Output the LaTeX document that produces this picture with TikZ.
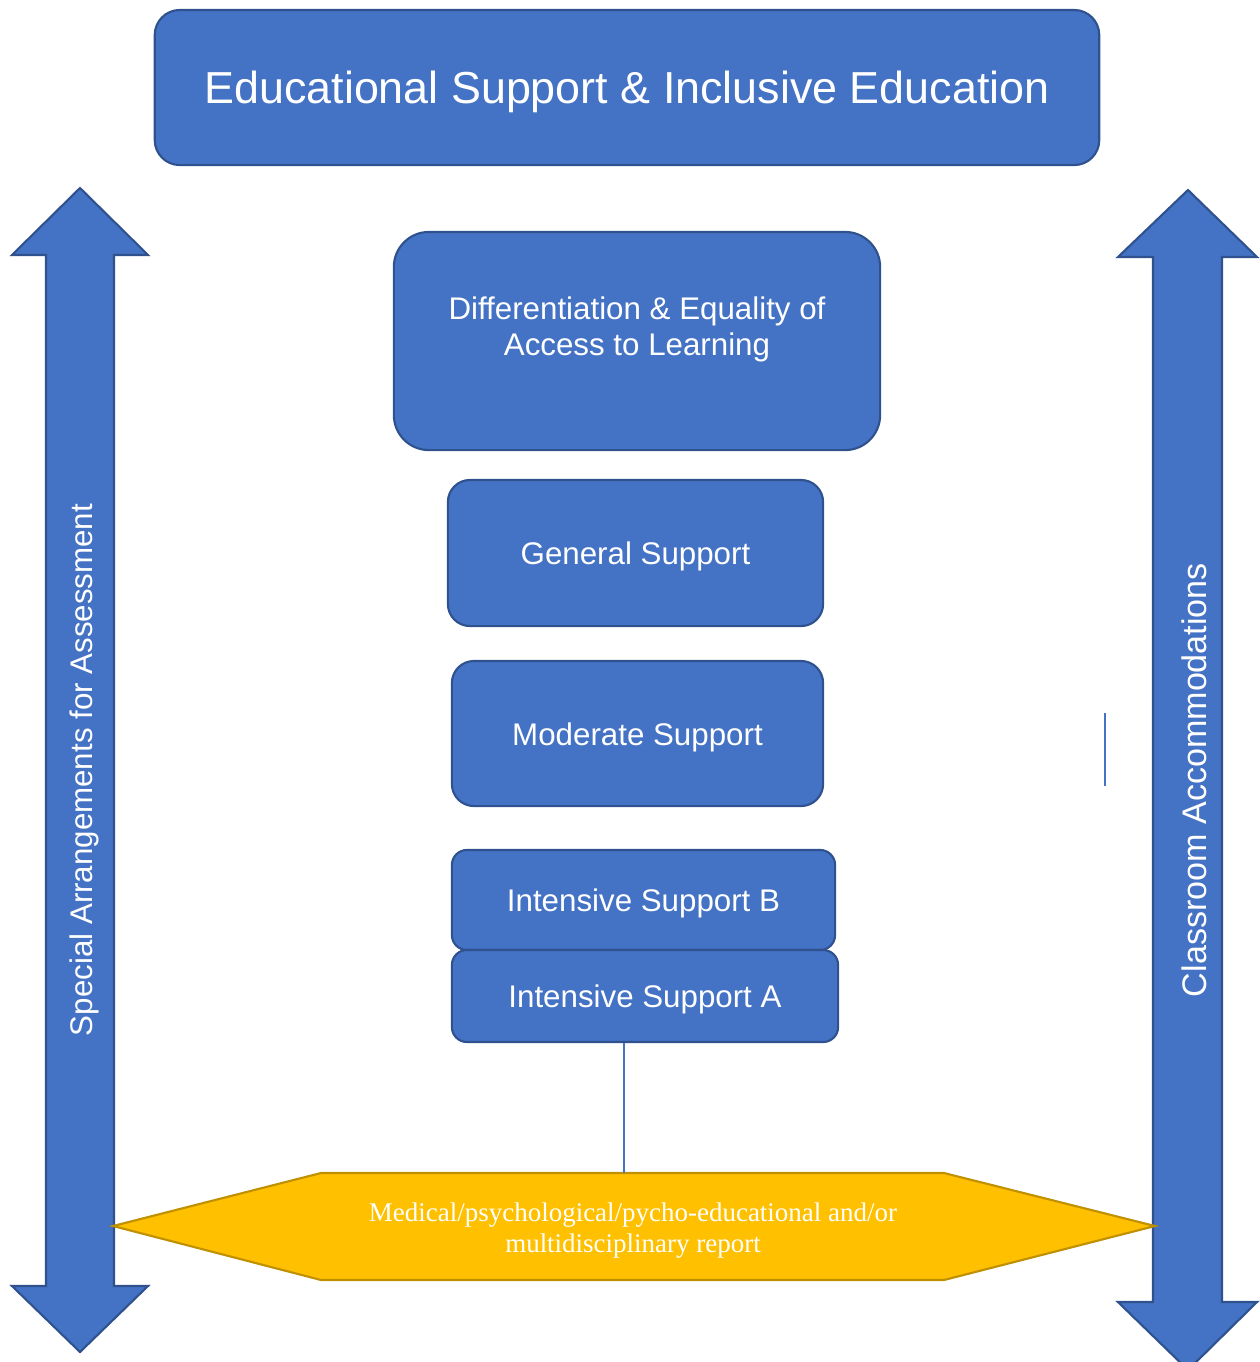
\documentclass[tikz,border=0pt]{standalone}
\usepackage{fontspec}
\setmainfont{Liberation Sans}
\newfontfamily\reportfont{Liberation Serif}
\usepackage{tikz}

\definecolor{boxblue}{HTML}{4472C4}
\definecolor{boxedge}{HTML}{2F528F}
\definecolor{reportgold}{HTML}{FFC000}
\definecolor{reportedge}{HTML}{BF9000}

% drop a label a little, keeping its box
\newcommand{\dropped}[2][1pt]{\raisebox{-#1}[\height][\depth]{#2}}

\tikzset{
	bluebox/.style={draw=boxedge, fill=boxblue, line width=0.6pt, text=white, align=center, inner sep=0pt},
	bluearrow/.style={draw=boxedge, fill=boxblue, line width=0.6pt},
	goldhex/.style={draw=reportedge, fill=reportgold, line width=0.6pt},
	midtext/.style={text=white, align=center, font=\fontsize{8.9pt}{10.2pt}\selectfont},
}

\begin{document}
\begin{tikzpicture}[x=0.01cm, y=-0.01cm]
					\useasboundingbox (0,0) rectangle (1260,1362);
					% Side arrows
					\draw[bluearrow] (80,188) -- (148,255) -- (114,255) -- (114,1286) -- (148,1286) -- (80,1352) -- (12,1286) -- (46,1286) -- (46,255) -- (12,255) -- cycle;
					\draw[bluearrow] (1188,190) -- (1257,257) -- (1222,257) -- (1222,1302) -- (1257,1302) -- (1188,1370) -- (1118,1302) -- (1153,1302) -- (1153,257) -- (1118,257) -- cycle;
					\node[midtext, rotate=90] (assess) at (84,770) {Special Arrangements for Assessment};
					\node[midtext, rotate=90, font=\fontsize{9.7pt}{11pt}\selectfont] (accom) at (1194,780) {Classroom Accommodations};
					% Title
					\node[bluebox, rounded corners=0.25cm, minimum width=9.44cm, minimum height=1.55cm,
						font=\fontsize{12.75pt}{15pt}\selectfont] (title) at (627,87.5) {\dropped[1.2pt]{Educational Support \& Inclusive Education}};
					% Levels of support
					\node[bluebox, rounded corners=0.35cm, minimum width=4.86cm, minimum height=2.18cm] (diff) at (637,341) {};
					\node[midtext] (difftext) at (637,329) {Differentiation \& Equality of\\Access to Learning};
					\node[bluebox, midtext, rounded corners=0.22cm, minimum width=3.75cm, minimum height=1.46cm] (gen) at (635.5,553) {\dropped{General Support}};
					\node[bluebox, midtext, rounded corners=0.22cm, minimum width=3.71cm, minimum height=1.45cm] (mod) at (637.5,733.5) {\dropped{Moderate Support}};
					\node[bluebox, midtext, rounded corners=0.15cm, minimum width=3.83cm, minimum height=1.00cm] (isb) at (643.5,900) {\dropped{Intensive Support B}};
					\node[bluebox, midtext, rounded corners=0.15cm, minimum width=3.86cm, minimum height=0.92cm] (isa) at (645,996) {\dropped{Intensive Support A}};
					% Report
					\draw[goldhex] (113,1226) -- (321,1173) -- (944,1173) -- (1155,1226) -- (944,1280) -- (321,1280) -- cycle;
					\coordinate (hextop) at (624,1173);
					\node[text=white, align=center, font=\reportfont\fontsize{7.67pt}{8.8pt}\selectfont] (report) at (633,1231)
						{Medical/psychological/pycho-educational and/or\\multidisciplinary report};
					\draw[boxblue, line width=0.35pt] (isa.south -| hextop) -- (hextop);
					%\draw (isa) -- (report);
					\draw[boxblue, line width=0.6pt] (1105,713) -- (1105,786);
				\end{tikzpicture}
\end{document}
